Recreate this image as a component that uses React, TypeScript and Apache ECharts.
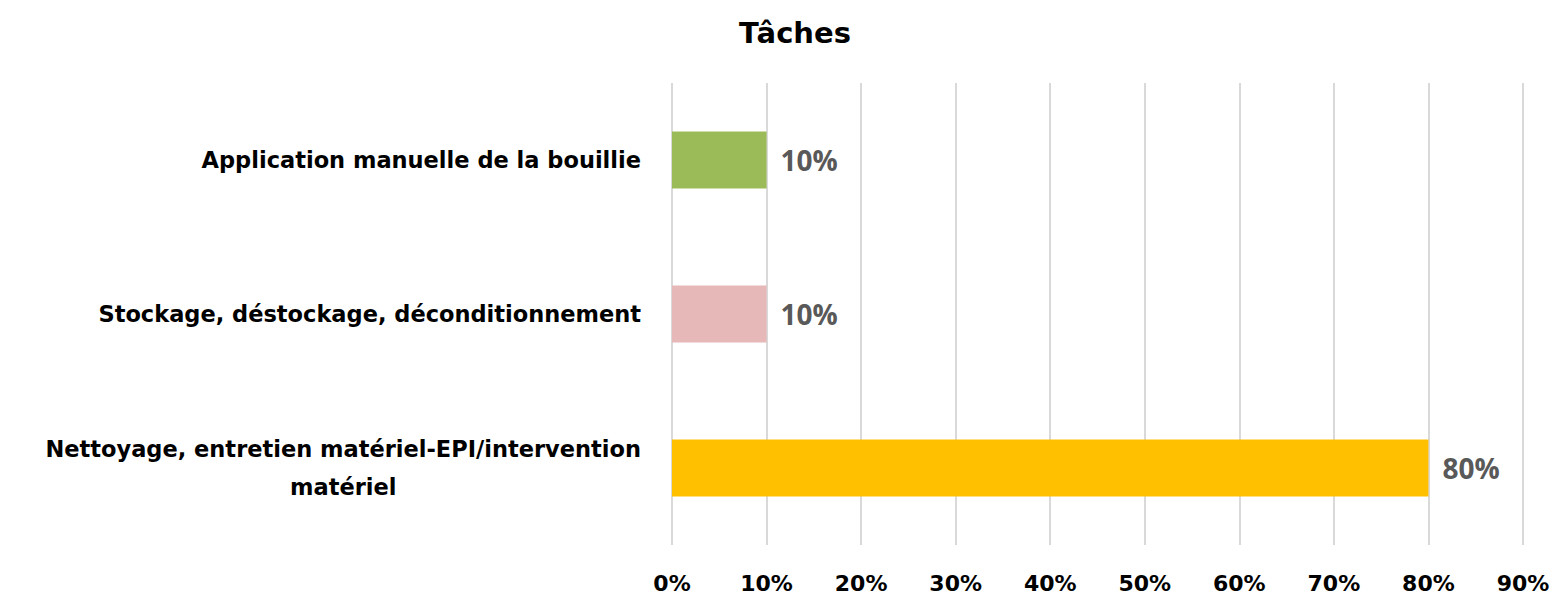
import React, { useEffect, useRef } from "react";
import * as echarts from "echarts";

const title = "Tâches";
const categories = [
  "Nettoyage, entretien matériel-EPI/intervention matériel",
  "Stockage, déstockage, déconditionnement",
  "Application manuelle de la bouillie",
];
const values = [80, 10, 10];
const colors = ["#FFC000", "#E6B9B8", "#9BBB59"];
const xTicks = [0, 10, 20, 30, 40, 50, 60, 70, 80, 90];

const catFont = "'Comic Sans MS', 'DejaVu Sans', sans-serif";

export default function App() {
  const ref = useRef<HTMLDivElement>(null);
  useEffect(() => {
    if (!ref.current) return;
    const chart = echarts.init(ref.current, undefined, { renderer: "svg" });
    chart.setOption({
      animation: false,
      backgroundColor: "#fff",
      title: {
        text: title,
        left: 790,
        textAlign: "center",
        top: 13,
        textStyle: { fontFamily: catFont, fontWeight: "bold", fontSize: 29, color: "#000" },
      },
      grid: { left: 672, right: 32, top: 83, bottom: 52, containLabel: false },
      xAxis: {
        type: "value",
        min: xTicks[0],
        max: xTicks[xTicks.length - 1],
        interval: 10,
        axisLine: { show: false },
        axisTick: { show: false },
        splitLine: { show: true, lineStyle: { color: "#D9D9D9", width: 2 } },
        axisLabel: {
          margin: 27,
          formatter: (v: number) => `${v}%`,
          fontFamily: catFont,
          fontWeight: "bold",
          fontSize: 22,
          color: "#000",
        },
      },
      yAxis: {
        type: "category",
        data: categories,
        axisLine: { show: false },
        axisTick: { show: false },
        axisLabel: {
          margin: 31,
          fontFamily: catFont,
          fontWeight: "bold",
          fontSize: 22.5,
          color: "#000",
          lineHeight: 38,
          formatter: (v: string) => {
            if (v.length > 50) {
              const i = v.lastIndexOf(" ");
              return `{a|${v.slice(0, i)}}\n{a|${v.slice(i + 1)}}`;
            }
            return `{a|${v}}`;
          },
          rich: {
            a: {
              align: "center",
              fontFamily: catFont,
              fontWeight: "bold",
              fontSize: 22.5,
              color: "#000",
              lineHeight: 38,
            },
          },
        },
      },
      series: [
        {
          type: "bar",
          data: values.map((v, i) => ({ value: v, itemStyle: { color: colors[i] } })),
          barWidth: "37%",
          label: {
            show: true,
            position: "right",
            distance: 14,
            formatter: (p: any) => `${p.value}%`,
            fontFamily: "'Open Sans', sans-serif",
            fontWeight: "bold",
            fontSize: 28,
            color: "#595959",
          },
        },
      ],
    });
    return () => chart.dispose();
  }, []);
  return (
    <div
      ref={ref}
      style={{ position: "fixed", left: 0, top: 0, width: 1555, height: 597 }}
    />
  );
}
